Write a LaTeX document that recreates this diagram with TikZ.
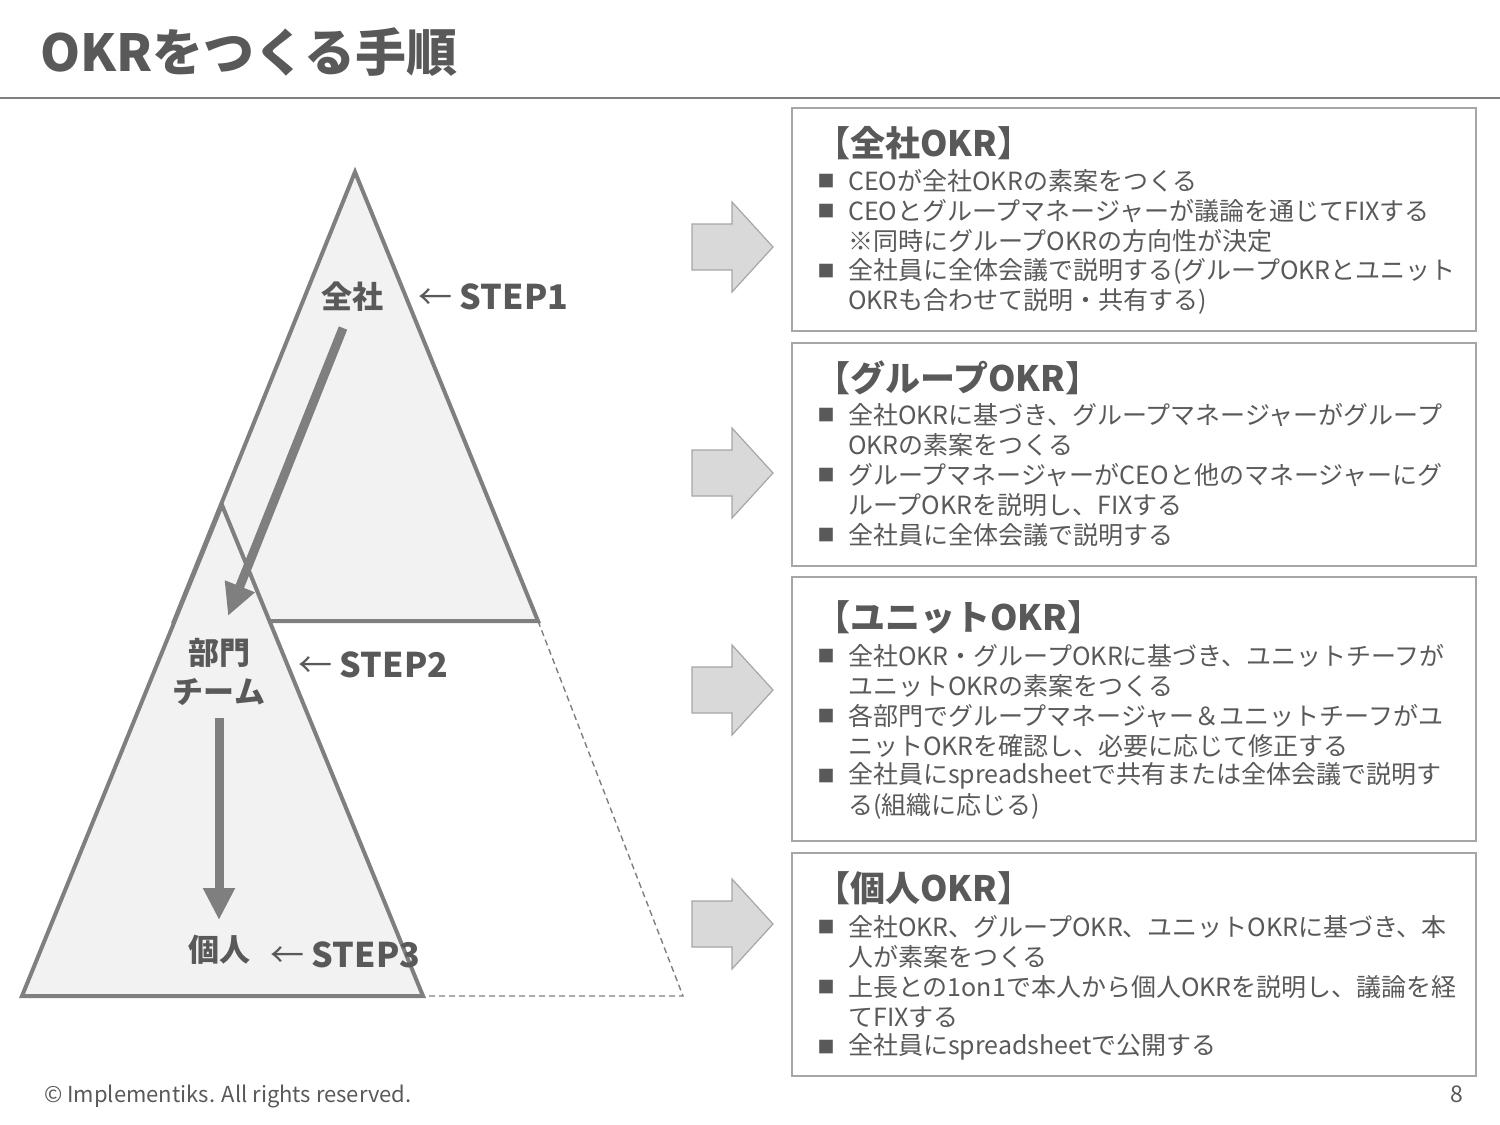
\documentclass[tikz,border=0pt]{standalone}
\usepackage{fontspec}
\setmainfont{Noto Sans CJK JP}
\usetikzlibrary{arrows.meta}
\definecolor{tx}{HTML}{595959}
\definecolor{ln}{HTML}{7F7F7F}
\definecolor{tri}{HTML}{F2F2F2}
\definecolor{bxl}{HTML}{A6A6A6}
\definecolor{arf}{HTML}{D9D9D9}
\tikzset{
  trifill/.style={fill=tri, draw=ln, line width=4pt, line join=miter},
  guide/.style={draw=ln, dash pattern=on 6pt off 4pt, line width=1.4pt},
  flow/.style={draw=ln, line width=9pt, -{Triangle[length=32pt,width=30pt]}},
  okrbox/.style={draw=bxl, line width=1.5pt},
  blockarrow/.style={fill=arf, draw=bxl, line width=1.2pt},
  heading/.style={font=\fontsize{35}{38}\selectfont\bfseries, text=tx, anchor=west, inner sep=0pt},
  body/.style={font=\fontsize{25}{28}\selectfont, text=tx, anchor=west, inner sep=0pt},
  bul/.style={font=\fontsize{17}{20}\selectfont, text=tx, anchor=center, inner sep=0pt},
  lvl/.style={font=\fontsize{31}{34}\selectfont\bfseries, text=tx, inner sep=0pt},
  steplbl/.style={font=\fontsize{34}{36}\selectfont\bfseries, text=tx, anchor=west, inner sep=0pt},
}
\begin{document}
\begin{tikzpicture}[x=1pt,y=-1pt]
\useasboundingbox (0,0) rectangle (1500,1125);
% title
\node[font=\fontsize{51}{54}\selectfont\bfseries, text=tx, anchor=west, inner sep=0pt] (title) at (40,52) {OKRをつくる手順};
\draw[draw=ln, line width=2pt] (0,98) -- (1500,98);
% pyramid
\coordinate (A) at (355,172);
\coordinate (B) at (174,621);
\coordinate (C) at (538,621);
\coordinate (D) at (222,505);
\coordinate (E) at (22,996);
\coordinate (F) at (423,996);
\coordinate (G) at (683,996);
\draw[guide] (C) -- (G) -- (F);
\draw[trifill] (A) -- (C) -- (B) -- cycle;
\draw[trifill] (D) -- (F) -- (E) -- cycle;
% labels
\node[lvl] (zensha) at (352,297) {全社};
\node[steplbl] (s1) at (418,297) {{\mdseries ←} STEP1};
\node[lvl] (bumon) at (219,653) {部門};
\node[lvl] (team) at (219,692) {チーム};
\node[steplbl] (s2) at (298,665) {{\mdseries ←} STEP2};
\node[lvl] (kojin) at (219,950) {個人};
\node[steplbl] (s3) at (270,955) {{\mdseries ←} STEP3};
\coordinate (f1s) at (343,328);
\coordinate (f1e) at (228,616);
\coordinate (f2s) at (219,718);
\coordinate (f2e) at (219,920);
\draw[flow] (f1s) -- (f1e);
\draw[flow] (f2s) -- (f2e);
% block arrows
\foreach \cy/\nm in {247/ba1,473/ba2,690/ba3,924/ba4}{
  \draw[blockarrow] (692,\cy-23) -- (732,\cy-23) -- (732,\cy-45) -- (773,\cy) -- (732,\cy+45) -- (732,\cy+23) -- (692,\cy+23) -- cycle;
}
% boxes
\draw[okrbox] (792,108) rectangle (1476,331);
\draw[okrbox] (792,343) rectangle (1476,566);
\draw[okrbox] (792,577) rectangle (1476,841);
\draw[okrbox] (792,853) rectangle (1476,1076);
% box 1
\node[heading] (h1) at (815,143) {【全社OKR】};
\node[bul] (b11) at (826,181) {■};
\node[body] (t11) at (848,181) {CEOが全社OKRの素案をつくる};
\node[bul] (b12) at (826,211) {■};
\node[body] (t12) at (848,211) {CEOとグループマネージャーが議論を通じてFIXする};
\node[body] (t13) at (848,241) {※同時にグループOKRの方向性が決定};
\node[bul] (b14) at (826,271) {■};
\node[body] (t14) at (848,271) {全社員に全体会議で説明する(グループOKRとユニット};
\node[body] (t15) at (848,301) {OKRも合わせて説明・共有する)};
% box 2
\node[heading] (h2) at (815,378) {【グループOKR】};
\node[bul] (b21) at (826,415) {■};
\node[body] (t21) at (848,415) {全社OKRに基づき、グループマネージャーがグループ};
\node[body] (t22) at (848,445) {OKRの素案をつくる};
\node[bul] (b23) at (826,475) {■};
\node[body] (t23) at (848,475) {グループマネージャーがCEOと他のマネージャーにグ};
\node[body] (t24) at (848,505) {ループOKRを説明し、FIXする};
\node[bul] (b25) at (826,535) {■};
\node[body] (t25) at (848,535) {全社員に全体会議で説明する};
% box 3
\node[heading] (h3) at (815,617) {【ユニットOKR】};
\node[bul] (b31) at (826,656) {■};
\node[body] (t31) at (848,656) {全社OKR・グループOKRに基づき、ユニットチーフが};
\node[body] (t32) at (848,686) {ユニットOKRの素案をつくる};
\node[bul] (b33) at (826,716) {■};
\node[body] (t33) at (848,716) {各部門でグループマネージャー＆ユニットチーフがユ};
\node[body] (t34) at (848,746) {ニットOKRを確認し、必要に応じて修正する};
\node[bul] (b35) at (826,776) {■};
\node[body] (t35) at (848,776) {全社員にspreadsheetで共有または全体会議で説明す};
\node[body] (t36) at (848,806) {る(組織に応じる)};
% box 4
\node[heading] (h4) at (815,888) {【個人OKR】};
\node[bul] (b41) at (826,927) {■};
\node[body] (t41) at (848,927) {全社OKR、グループOKR、ユニットOKRに基づき、本};
\node[body] (t42) at (848,957) {人が素案をつくる};
\node[bul] (b43) at (826,987) {■};
\node[body] (t43) at (848,987) {上長との1on1で本人から個人OKRを説明し、議論を経};
\node[body] (t44) at (848,1017) {てFIXする};
\node[bul] (b45) at (826,1047) {■};
\node[body] (t45) at (848,1047) {全社員にspreadsheetで公開する};
% footer
\node[font=\fontsize{22}{26}\selectfont, text=tx, anchor=west, inner sep=0pt] (copy) at (44,1096) {© Implementiks. All rights reserved.};
\node[font=\fontsize{23}{26}\selectfont, text=tx, anchor=east, inner sep=0pt] (page) at (1463,1094) {8};
\end{tikzpicture}
\end{document}
